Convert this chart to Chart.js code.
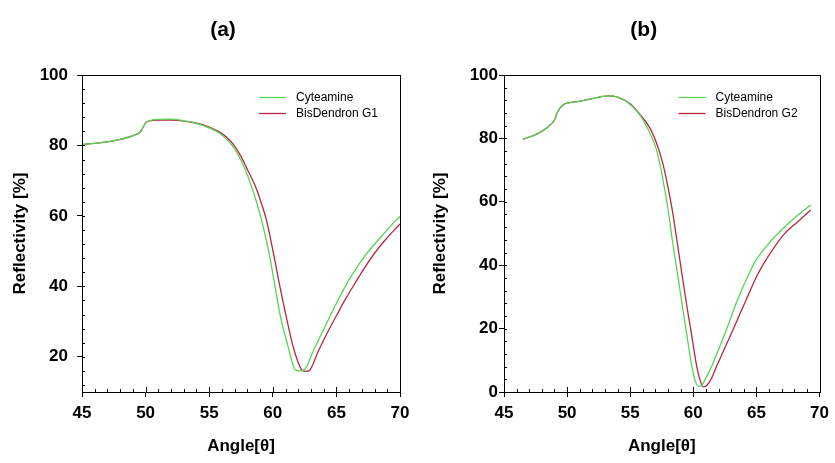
<!DOCTYPE html>
<html>
<head>
<meta charset="utf-8">
<script src="https://cdn.jsdelivr.net/npm/chart.js@4.4.1/dist/chart.umd.min.js"></script>
<style>
html, body { margin: 0; padding: 0; background: #fff; }
#wrap { position: relative; width: 835px; height: 463px; }
canvas { position: absolute; top: 0; }
#chartA { left: 0; width: 417px; height: 463px; }
#chartB { left: 417px; width: 418px; height: 463px; }
</style>
</head>
<body>
<div id="wrap">
  <canvas id="chartA" width="417" height="463"></canvas>
  <canvas id="chartB" width="418" height="463"></canvas>
</div>
<script>
// panel (a)
const angleA_cyt = [45, 46, 47, 48, 49, 49.6, 50, 50.3, 51, 52, 53, 54, 55, 55.85, 56.5, 57, 57.5, 58, 58.4, 58.75, 59.1, 59.7, 60.15, 60.6, 61.2, 61.75, 62.1, 62.5, 63.2, 63.85, 64.5, 65.2, 65.85, 66.6, 67.4, 68.5, 69.7, 70];
const reflA_cyt  = [80.3, 80.6, 81.0, 81.7, 82.8, 83.9, 86.4, 87.0, 87.4, 87.5, 87.0, 86.3, 85.0, 83.4, 81.3, 79.0, 75.8, 71.6, 67.6, 63.6, 59.0, 49.5, 40.5, 31.5, 22.9, 16.4, 16.0, 16.4, 21.8, 26.7, 31.5, 36.6, 41.0, 45.3, 49.4, 54.0, 58.8, 59.8];
const angleA_bis = [45, 46, 47, 48, 49, 49.6, 50, 50.3, 51, 52, 53, 54, 55, 55.85, 56.5, 57, 57.5, 58, 58.35, 58.7, 59.1, 59.5, 60.05, 60.5, 61.05, 61.6, 62.3, 62.6, 62.9, 63.6, 64.3, 65.05, 65.7, 66.45, 67.1, 67.8, 68.8, 70];
const reflA_bis  = [80.3, 80.6, 81.0, 81.7, 82.8, 83.9, 86.4, 87.0, 87.2, 87.2, 86.9, 86.3, 85.2, 83.7, 81.9, 79.8, 76.9, 73.2, 70.6, 67.8, 63.6, 58.8, 49.4, 41.0, 31.5, 22.9, 16.2, 15.9, 16.2, 21.8, 26.9, 32.0, 36.3, 40.8, 44.6, 48.4, 53.0, 57.7];

// panel (b)
const angleB_cyt = [46.5, 47.7, 48.5, 49.0, 49.25, 49.65, 50.8, 52.1, 53.2, 54.0, 55.0, 55.8, 56.45, 57.0, 57.3, 57.6, 58.0, 58.35, 58.7, 59.1, 59.47, 59.86, 60.15, 60.4, 60.65, 61.0, 61.43, 62.5, 63.5, 64.2, 64.95, 65.9, 66.7, 68.0, 69.3];
const reflB_cyt  = [79.7, 81.6, 83.7, 85.8, 88.4, 90.5, 91.6, 92.6, 93.4, 93.0, 90.7, 87.2, 82.6, 77.4, 72.8, 66.8, 57.5, 47.5, 38.5, 28.0, 18.4, 8.5, 3.5, 1.8, 2.0, 4.5, 7.9, 18.4, 29.0, 35.5, 41.5, 46.5, 50.0, 54.8, 59.0];
const angleB_bis = [46.5, 47.7, 48.5, 49.0, 49.25, 49.65, 50.8, 52.1, 53.2, 54.0, 55.0, 55.8, 56.6, 57.2, 57.6, 58.0, 58.35, 58.7, 59.05, 59.45, 59.85, 60.25, 60.55, 60.8, 61.1, 61.4, 61.82, 63.0, 64.18, 64.9, 65.5, 66.3, 67.2, 68.3, 69.3];
const reflB_bis  = [79.7, 81.6, 83.7, 85.8, 88.4, 90.5, 91.6, 92.6, 93.4, 93.0, 90.9, 87.4, 83.0, 77.2, 71.8, 64.5, 57.0, 47.8, 38.5, 28.0, 18.4, 8.5, 3.5, 1.6, 2.2, 4.0, 7.9, 18.4, 29.0, 35.5, 40.0, 45.0, 49.8, 53.8, 57.4];

const xTicks = [45, 50, 55, 60, 65, 70];
const yTicksA = [20, 40, 60, 80, 100];
const yTicksB = [0, 20, 40, 60, 80, 100];

const FONT = "'Liberation Sans', Arial, sans-serif";
const GREEN = '#55d455';
const RED = '#b8283e';

function pts(xs, ys) {
    return xs.map((x, i) => ({ x: x, y: ys[i] }));
}

// frame, inward ticks, legend and panel letter
const decorPlugin = {
    id: 'decor',
    afterDatasetsDraw(chart, args, opts) {
        const ctx = chart.ctx;
        const a = chart.chartArea;
        const xs = chart.scales.x, ys = chart.scales.y;
        ctx.save();
        ctx.strokeStyle = '#000';
        ctx.lineWidth = 1;
        ctx.strokeRect(Math.round(a.left) + 0.5, Math.round(a.top) + 0.5, Math.round(a.right - a.left), Math.round(a.bottom - a.top));
        ctx.beginPath();
        for (let v = xs.min; v <= xs.max; v += 1) {
            const px = Math.round(xs.getPixelForValue(v)) + 0.5;
            const len = v % 5 === 0 ? 5 : 3;
            ctx.moveTo(px, a.bottom);
            ctx.lineTo(px, a.bottom - len);
        }
        for (let v = Math.ceil(ys.min / 4) * 4; v <= ys.max; v += 4) {
            const py = Math.round(ys.getPixelForValue(v)) + 0.5;
            ctx.moveTo(a.left, py);
            ctx.lineTo(a.left + 3, py);
        }
        ctx.stroke();

        // legend
        ctx.font = '12px ' + FONT;
        ctx.textBaseline = 'middle';
        ctx.fillStyle = '#000';
        chart.data.datasets.forEach((ds, i) => {
            const y = Math.round(a.top + 22 + i * 16) + 0.5;
            ctx.strokeStyle = ds.borderColor;
            ctx.lineWidth = 1.3;
            ctx.beginPath();
            ctx.moveTo(a.right - 141, y);
            ctx.lineTo(a.right - 114, y);
            ctx.stroke();
            ctx.fillText(ds.label, a.right - 104, y);
        });

        // panel letter
        ctx.font = 'bold 21px ' + FONT;
        ctx.textAlign = 'center';
        ctx.fillText(opts.letter, (a.left + a.right) / 2 - 18, 30);
        ctx.restore();
    }
};

function makeChart(id, letter, cyt, bis, bisLabel, yMin, yTicks, yWidth, rightPad, yLabelPad, yTitlePad) {
    return new Chart(document.getElementById(id).getContext('2d'), {
        type: 'line',
        data: {
            datasets: [
                { label: 'Cyteamine', data: cyt, borderColor: GREEN, borderWidth: 1.3, pointRadius: 0, cubicInterpolationMode: 'monotone' },
                { label: bisLabel, data: bis, borderColor: RED, borderWidth: 1.3, pointRadius: 0, cubicInterpolationMode: 'monotone' }
            ]
        },
        options: {
            responsive: false,
            animation: false,
            layout: { padding: { top: 75, right: rightPad, left: 0, bottom: 0 } },
            plugins: { legend: { display: false }, tooltip: { enabled: false }, decor: { letter: letter } },
            scales: {
                x: {
                    type: 'linear', min: 45, max: 70,
                    afterBuildTicks: s => { s.ticks = xTicks.map(v => ({ value: v })); },
                    afterFit: s => { s.height = 71; },
                    grid: { drawOnChartArea: false, tickLength: 5, color: '#000' },
                    border: { color: '#000' },
                    ticks: { color: '#000', padding: 6, maxRotation: 0, font: { family: FONT, size: 17, weight: 'bold' } },
                    title: { display: true, text: 'Angle[θ]', color: '#000', padding: { top: 6, bottom: 6 }, font: { family: FONT, size: 17, weight: 'bold' } }
                },
                y: {
                    min: yMin, max: 100,
                    afterBuildTicks: s => { s.ticks = yTicks.map(v => ({ value: v })); },
                    afterFit: s => { s.width = yWidth; },
                    grid: { drawOnChartArea: false, tickLength: 5, color: '#000' },
                    border: { color: '#000' },
                    ticks: { color: '#000', padding: yLabelPad, font: { family: FONT, size: 17, weight: 'bold' } },
                    title: { display: true, text: 'Reflectivity [%]', color: '#000', padding: { top: yTitlePad, bottom: yTitlePad }, font: { family: FONT, size: 17, weight: 'bold' } }
                }
            }
        },
        plugins: [decorPlugin]
    });
}

makeChart('chartA', '(a)', pts(angleA_cyt, reflA_cyt), pts(angleA_bis, reflA_bis), 'BisDendron G1', 10, yTicksA, 82, 17, 9, 10);
makeChart('chartB', '(b)', pts(angleB_cyt, reflB_cyt), pts(angleB_bis, reflB_bis), 'BisDendron G2', 0, yTicksB, 87, 13, 1, 13);
</script>
</body>
</html>
